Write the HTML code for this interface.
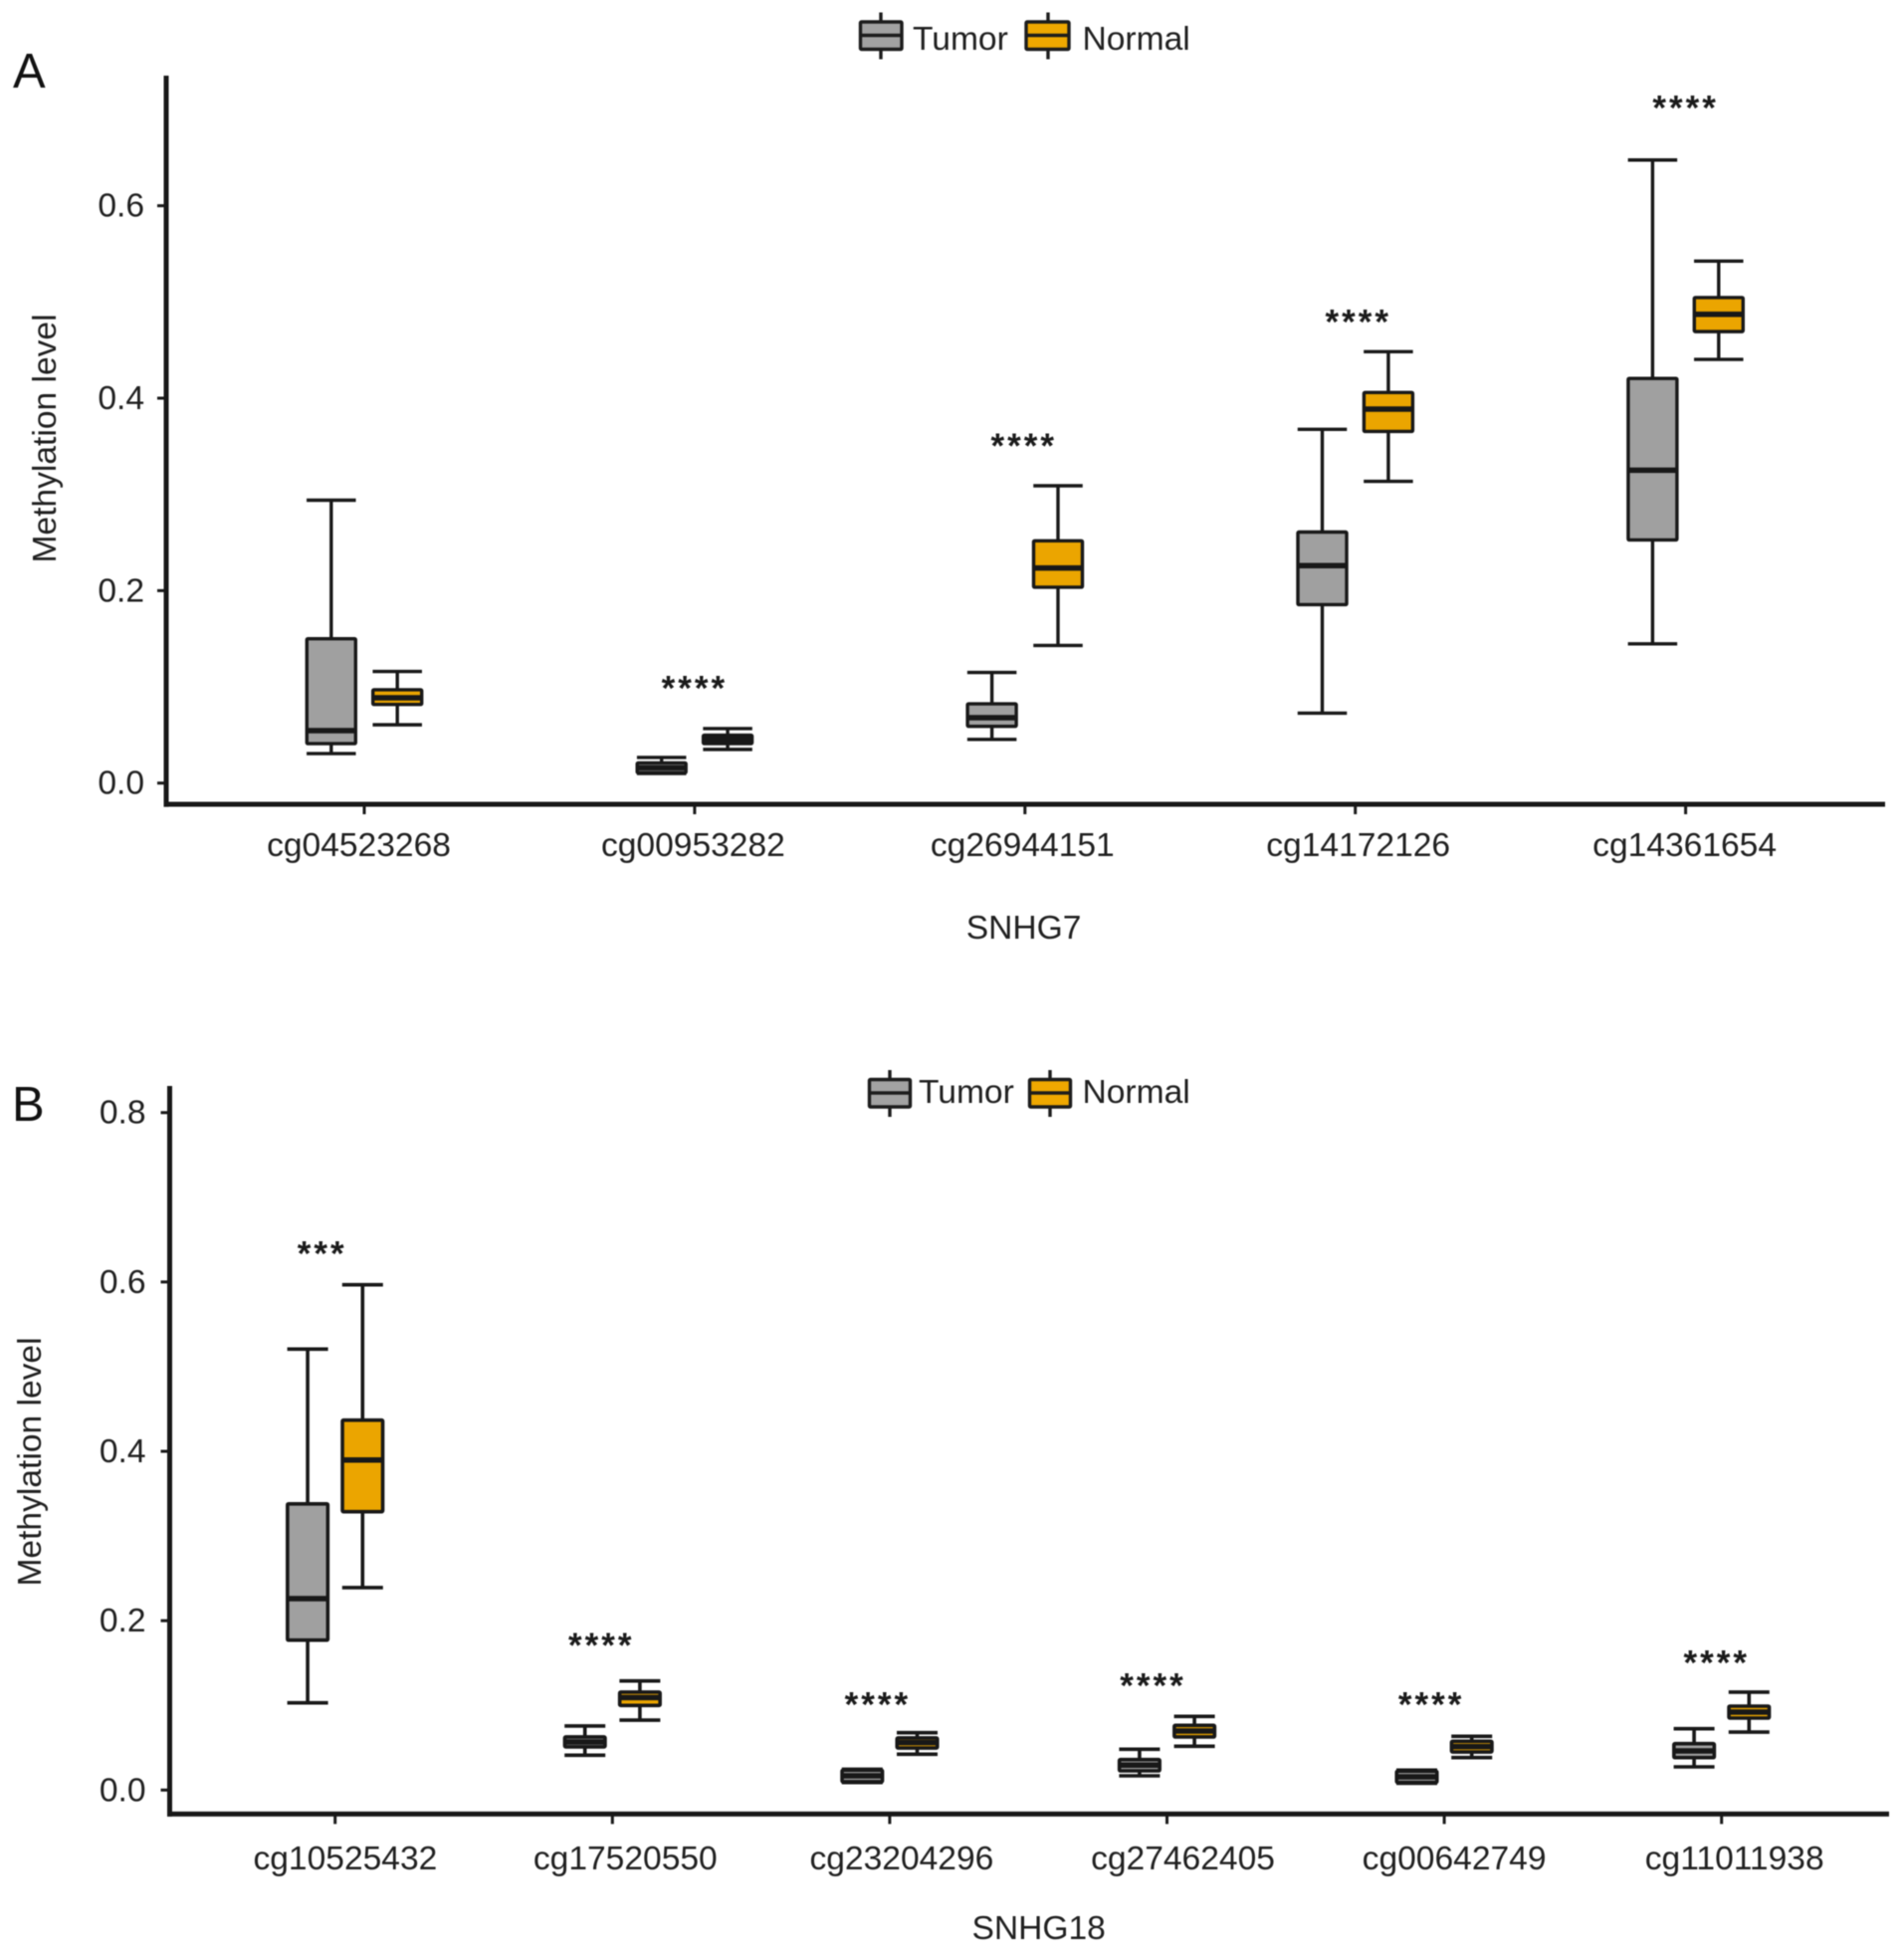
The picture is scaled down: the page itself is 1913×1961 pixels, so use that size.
<!DOCTYPE html>
<html lang="en">
<head>
<meta charset="utf-8">
<title>Methylation level of SNHG7 and SNHG18 CpG sites</title>
<style>
  html, body { margin: 0; padding: 0; background: #fff; }
  body { width: 1913px; height: 1961px; overflow: hidden; }
  svg { display: block; font-family: "Liberation Sans", Arial, sans-serif; filter: blur(0.55px); }
  text { fill: #1f1f1f; }
  .lab { font-size: 33.6px; }
  .letter { font-size: 49px; fill: #111; }
  .sig { font-size: 35px; font-weight: bold; letter-spacing: 3px; fill: #1a1a1a; text-anchor: middle; }
</style>
</head>
<body>
<svg id="chart" xmlns="http://www.w3.org/2000/svg" width="1913" height="1961" viewBox="0 0 1913 1961">
  <rect width="1913" height="1961" fill="#fff"/>

  <g id="panelA">
    <text class="letter" x="13" y="88">A</text>
    <text class="lab" transform="translate(56 440.5) rotate(-90)" text-anchor="middle">Methylation level</text>
    <text class="lab" x="1028.6" y="943" text-anchor="middle">SNHG7</text>
    <g>
      <g>
        <line x1="885" x2="885" y1="12.5" y2="59.5" stroke="#1c1c1c" stroke-width="3.4"/>
        <rect x="864.5" y="22" width="41.5" height="27.5" fill="#a2a2a2" stroke="#1c1c1c" stroke-width="3.4" rx="1"/>
        <line x1="864.5" x2="906" y1="35.5" y2="35.5" stroke="#1c1c1c" stroke-width="3.5"/>
        <text class="lab" x="917" y="50">Tumor</text>
      </g>
      <g>
        <line x1="1053" x2="1053" y1="12.5" y2="59.5" stroke="#1c1c1c" stroke-width="3.4"/>
        <rect x="1031" y="22" width="43" height="27.5" fill="#efa800" stroke="#1c1c1c" stroke-width="3.4" rx="1"/>
        <line x1="1031" x2="1074" y1="35.5" y2="35.5" stroke="#1c1c1c" stroke-width="3.5"/>
        <text class="lab" x="1087.5" y="50">Normal</text>
      </g>
    </g>
  </g>

  <g id="panelB">
    <text class="letter" x="12" y="1126">B</text>
    <text class="lab" transform="translate(41 1468.5) rotate(-90)" text-anchor="middle">Methylation level</text>
    <text class="lab" x="1043.7" y="1948" text-anchor="middle">SNHG18</text>
    <g>
      <g>
        <line x1="894" x2="894" y1="1075" y2="1122" stroke="#1c1c1c" stroke-width="3.4"/>
        <rect x="873.5" y="1084.5" width="41" height="27.5" fill="#a2a2a2" stroke="#1c1c1c" stroke-width="3.4" rx="1"/>
        <line x1="873.5" x2="914.5" y1="1098" y2="1098" stroke="#1c1c1c" stroke-width="3.5"/>
        <text class="lab" x="923" y="1108">Tumor</text>
      </g>
      <g>
        <line x1="1055" x2="1055" y1="1075" y2="1122" stroke="#1c1c1c" stroke-width="3.4"/>
        <rect x="1034.5" y="1084.5" width="41" height="27.5" fill="#efa800" stroke="#1c1c1c" stroke-width="3.4" rx="1"/>
        <line x1="1034.5" x2="1075.5" y1="1098" y2="1098" stroke="#1c1c1c" stroke-width="3.5"/>
        <text class="lab" x="1087.5" y="1108">Normal</text>
      </g>
    </g>
  </g>
</svg>

<script>
// Each row is one CpG site: [lower whisker, Q1, median, Q3, upper whisker]
const categoriesA = ['cg04523268', 'cg00953282', 'cg26944151', 'cg14172126', 'cg14361654'];
const tumorA = [
  [0.0307, 0.0410, 0.0545, 0.1500, 0.2940],
  [0.0100, 0.0107, 0.0158, 0.0210, 0.0267],
  [0.0454, 0.0590, 0.0680, 0.0824, 0.1150],
  [0.0727, 0.1854, 0.2260, 0.2609, 0.3676],
  [0.1447, 0.2527, 0.3252, 0.4205, 0.6475]
];
const normalA = [
  [0.0606, 0.0817, 0.0886, 0.0970, 0.1160],
  [0.0350, 0.0410, 0.0454, 0.0498, 0.0566],
  [0.1430, 0.2035, 0.2235, 0.2518, 0.3090],
  [0.3136, 0.3654, 0.3886, 0.4059, 0.4483],
  [0.4403, 0.4692, 0.4872, 0.5046, 0.5424]
];
const sigLabelsA = ['', '****', '****', '****', '****'];
const sigHeightA = [0, 0.103, 0.355, 0.484, 0.706];
const yTicksA = [0, 0.2, 0.4, 0.6];

const categoriesB = ['cg10525432', 'cg17520550', 'cg23204296', 'cg27462405', 'cg00642749', 'cg11011938'];
const tumorB = [
  [0.1030, 0.1770, 0.2260, 0.3380, 0.5207],
  [0.0411, 0.0510, 0.0568, 0.0627, 0.0756],
  [0.0090, 0.0098, 0.0168, 0.0235, 0.0245],
  [0.0168, 0.0227, 0.0294, 0.0360, 0.0482],
  [0.0080, 0.0090, 0.0156, 0.0223, 0.0235],
  [0.0274, 0.0383, 0.0462, 0.0548, 0.0724]
];
const normalB = [
  [0.2390, 0.3287, 0.3898, 0.4368, 0.5967],
  [0.0826, 0.0999, 0.1093, 0.1156, 0.1289],
  [0.0423, 0.0497, 0.0560, 0.0615, 0.0677],
  [0.0517, 0.0627, 0.0697, 0.0764, 0.0870],
  [0.0383, 0.0450, 0.0513, 0.0576, 0.0635],
  [0.0685, 0.0850, 0.0920, 0.0991, 0.1156]
];
const sigLabelsB = ['***', '****', '****', '****', '****', '****'];
const sigHeightB = [0.6386, 0.1758, 0.106, 0.1285, 0.106, 0.1554];
const yTicksB = [0, 0.2, 0.4, 0.6, 0.8];

const SVG_NS = 'http://www.w3.org/2000/svg';
const INK = '#181818';

function make(tag, attrs, parent) {
  const node = document.createElementNS(SVG_NS, tag);
  Object.keys(attrs).forEach(function (k) { node.setAttribute(k, attrs[k]); });
  parent.appendChild(node);
  return node;
}

function seg(parent, x1, y1, x2, y2, width) {
  return make('line', { x1: x1, y1: y1, x2: x2, y2: y2, stroke: INK, 'stroke-width': width }, parent);
}

function drawBox(parent, cx, five, y, geom, fill, group) {
  const g = make('g', {}, parent);
  
  

  const whisker = seg(g, cx, y(five[0]), cx, y(five[4]), geom.line);
  
  

  const capHigh = seg(g, cx - geom.cap / 2, y(five[4]), cx + geom.cap / 2, y(five[4]), geom.line);
  
  

  const capLow = seg(g, cx - geom.cap / 2, y(five[0]), cx + geom.cap / 2, y(five[0]), geom.line);
  
  

  const body = make('rect', {
    x: cx - geom.box / 2,
    y: y(five[3]),
    width: geom.box,
    height: y(five[1]) - y(five[3]),
    fill: fill,
    stroke: INK,
    'stroke-width': geom.line,
    rx: 1
  }, g);
  
  

  const median = seg(g, cx - geom.box / 2, y(five[2]), cx + geom.box / 2, y(five[2]), geom.median);
  
  
}

function drawPanel(root, p) {
  const yAxis = seg(root, p.axisX, p.axisTop, p.axisX, p.axisY + 2.6, 5);
  
  

  const xAxis = seg(root, p.axisX - 2.5, p.axisY, p.axisRight, p.axisY, 5);
  
  

  p.yTicks.forEach(function (v) {
    const tick = seg(root, p.axisX - 9, p.y(v), p.axisX, p.y(v), 3);
    
    

    const label = make('text', { x: p.axisX - p.yLabelGap, y: p.y(v) + 11, 'text-anchor': 'end', class: 'lab' }, root);
    
    
    label.textContent = v.toFixed(1);
  });

  p.categories.forEach(function (name, i) {
    const cx = p.x(i);

    const tick = seg(root, cx, p.axisY, cx, p.axisY + 10, 3);
    
    

    const label = make('text', { x: cx + p.labelNudge[i], y: p.labelY, 'text-anchor': 'middle', class: 'lab' }, root);
    
    
    label.textContent = name;

    drawBox(root, cx - p.dodge, p.tumor[i], p.y, p.geom, '#a0a0a0', 'tumor');
    drawBox(root, cx + p.dodge, p.normal[i], p.y, p.geom, '#eba500', 'normal');

    if (p.sigLabels[i]) {
      const sig = make('text', { x: cx + p.sigNudge[i], y: p.y(p.sigHeight[i]) + 16.5, class: 'sig' }, root);
      
      
      sig.textContent = p.sigLabels[i];
    }
  });
}

drawPanel(document.getElementById('panelA'), {
  categories: categoriesA, tumor: tumorA, normal: normalA,
  sigLabels: sigLabelsA, sigHeight: sigHeightA, yTicks: yTicksA,
  y: function (v) { return 786.7 - 966.7 * v; },
  x: function (i) { return 366 + 331.9 * i; },
  dodge: 33.2,
  geom: { box: 49, cap: 49.5, line: 3.4, median: 5.5 },
  axisX: 167, axisTop: 76, axisY: 808, axisRight: 1894,
  yLabelGap: 22,
  labelY: 860,
  labelNudge: [-5.5, -1.5, -2.5, 3, -1],
  sigNudge: [0, 0, -1, 3, 0]
});

drawPanel(document.getElementById('panelB'), {
  categories: categoriesB, tumor: tumorB, normal: normalB,
  sigLabels: sigLabelsB, sigHeight: sigHeightB, yTicks: yTicksB,
  y: function (v) { return 1798.3 - 850.7 * v; },
  x: function (i) { return 336.7 + 278.6 * i; },
  dodge: 27.6,
  geom: { box: 40.5, cap: 41, line: 3.6, median: 5.5 },
  axisX: 170.5, axisTop: 1091, axisY: 1822.4, axisRight: 1898,
  yLabelGap: 24,
  labelY: 1878,
  labelNudge: [10.2, 13, 12, 16, 10, 13],
  sigNudge: [-13, -11, -12, -14, -13, -5]
});
</script>
</body>
</html>
